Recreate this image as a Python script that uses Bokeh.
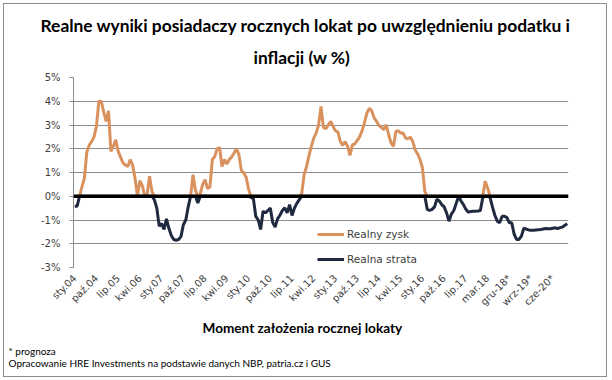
import numpy as np
from bokeh.plotting import figure
from bokeh.models import (Range1d, FixedTicker, Span, Legend, LegendItem, Title,
                          ColumnDataSource)
from bokeh.embed import file_html
from bokeh.resources import INLINE

# ---- data (values in %) ----
tick_labels = ["sty.04", "paź.04", "lip.05", "kwi.06", "sty.07", "paź.07", "lip.08",
               "kwi.09", "sty.10", "paź.10", "lip.11", "kwi.12", "sty.13", "paź.13",
               "lip.14", "kwi.15", "sty.16", "paź.16", "lip.17", "mar.18",
               "gru-18*", "wrz-19*", "cze-20*"]
tick_step = 9

wynik_realny = [
    -0.42, -0.42, 0.0, 0.4, 0.75, 1.85, 2.15, 2.3, 2.5, 2.94,
    4.0, 4.0, 3.55, 3.15, 3.6, 1.89, 2.1, 2.38, 1.89, 1.65,
    1.4, 1.32, 1.25, 1.54, 1.3, 0.75, 0.0, 0.66, 0.45, 0.0,
    0.1, 0.84, 0.2, -0.15, -0.5, -1.26, -1.15, -1.4, -0.95, -1.35,
    -1.65, -1.82, -1.85, -1.82, -1.7, -1.2, -1.0, -0.45, 0.0, 0.91,
    0.25, -0.28, 0.1, 0.5, 0.7, 0.32, 0.4, 1.54, 1.68, 2.0,
    2.05, 1.25, 1.55, 1.36, 1.55, 1.65, 1.82, 2.0, 1.75, 1.1,
    0.98, 0.8, 0.3, -0.05, -0.1, -0.85, -1.0, -1.4, -0.63, -0.7,
    -0.6, -0.5, -1.1, -1.3, -0.95, -0.8, -0.6, -0.49, -0.7, -0.35,
    -0.81, -0.5, -0.3, -0.14, 0.1, 0.9, 1.25, 1.7, 2.1, 2.45,
    2.66, 3.0, 3.78, 2.9, 2.84, 3.0, 3.15, 2.94, 2.76, 2.7,
    2.31, 2.14, 2.3, 2.12, 1.72, 2.17, 2.2, 2.35, 2.5, 2.75,
    3.1, 3.5, 3.7, 3.6, 3.3, 3.15, 2.98, 2.9, 2.8, 3.01,
    2.6, 2.26, 2.1, 2.73, 2.76, 2.66, 2.66, 2.45, 2.42, 2.49,
    2.31, 1.95, 1.78, 1.55, 1.2, 0.2, -0.55, -0.6, -0.55, -0.45,
    -0.12, -0.2, -0.35, -0.45, -0.7, -1.05, -0.75, -0.6, -0.3, 0.0,
    -0.2, -0.35, -0.55, -0.67, -0.64, -0.63, -0.63, -0.62, -0.6, -0.05,
    0.63, 0.35, -0.05, -0.45, -0.8, -1.05, -1.12, -0.84, -0.84, -0.9,
    -1.12, -1.12, -1.6, -1.82, -1.82, -1.68, -1.35, -1.38, -1.42, -1.43,
    -1.43, -1.42, -1.41, -1.4, -1.38, -1.36, -1.37, -1.37, -1.35, -1.33,
    -1.36, -1.32, -1.3, -1.22, -1.16,
]
y_ticks = [-3, -2, -1, 0, 1, 2, 3, 4, 5]

# the two series: gains (>=0) and losses (<=0)
realny_zysk = [max(v, 0.0) for v in wynik_realny]
realna_strata = [min(v, 0.0) for v in wynik_realny]
x_idx = list(range(len(wynik_realny)))

ORANGE = "#D9925E"
NAVY = "#1F2A40"
GRID = "#8C8C8C"
TXT = "#404040"
FONT = "DejaVu Sans"
TFONT = "Lato"

W, H = 604, 374
p = figure(width=W, height=H, output_backend="svg", toolbar_location=None,
           x_range=Range1d(-0.5, len(wynik_realny) - 0.5), y_range=Range1d(-3, 5),
           min_border_left=69, min_border_right=40, min_border_top=73,
           min_border_bottom=111,
           styles={"border": "1px solid #8C8C8C", "margin": "3px 0 0 3px"})
p.outline_line_color = None
p.background_fill_color = "white"
p.border_fill_color = "white"

src = ColumnDataSource(dict(x=x_idx, zysk=realny_zysk, strata=realna_strata))
r1 = p.line("x", "zysk", source=src, line_color=ORANGE, line_width=3)
r2 = p.line("x", "strata", source=src, line_color=NAVY, line_width=3)

p.add_layout(Span(location=0, dimension="width", line_color="black", line_width=3.5))

# grid
p.xgrid.grid_line_color = None
p.ygrid.ticker = FixedTicker(ticks=y_ticks)
p.ygrid.grid_line_color = GRID
p.ygrid.grid_line_width = 1

# y axis
p.yaxis.ticker = FixedTicker(ticks=y_ticks)
p.yaxis.major_label_overrides = {t: f"{t}%" for t in y_ticks}
p.yaxis.axis_line_color = GRID
p.yaxis.major_tick_line_color = GRID
p.yaxis.major_tick_out = 4
p.yaxis.major_tick_in = 0
p.yaxis.minor_tick_line_color = None
p.yaxis.major_label_text_font = FONT
p.yaxis.major_label_text_font_size = "10px"
p.yaxis.major_label_text_color = TXT
p.yaxis.major_label_standoff = 9

# x axis
xt = [i * tick_step for i in range(len(tick_labels))]
p.xaxis.ticker = FixedTicker(ticks=xt)
p.xaxis.major_label_overrides = {t: lab for t, lab in zip(xt, tick_labels)}
p.xaxis.major_label_orientation = np.pi / 4
p.xaxis.axis_line_color = None
p.xaxis.major_tick_line_color = None
p.xaxis.minor_tick_line_color = None
p.xaxis.major_label_text_font = FONT
p.xaxis.major_label_text_font_size = "10px"
p.xaxis.major_label_text_color = TXT
p.xaxis.major_label_standoff = 3

# legend
legend = Legend(items=[LegendItem(label="Realny zysk", renderers=[r1]),
                       LegendItem(label="Realna strata", renderers=[r2])],
                location=(244, -2), orientation="vertical")
legend.background_fill_alpha = 0
legend.border_line_color = None
legend.padding = 0
legend.margin = 0
legend.spacing = 5
legend.glyph_width = 27
legend.glyph_height = 20
legend.label_height = 20
legend.label_standoff = 3
legend.label_text_font = FONT
legend.label_text_font_size = "10.5px"
legend.label_text_color = TXT
p.add_layout(legend)

# titles (later "above" ones go further out); offsets relative to frame left
def title(t, place, size, bold=False, offset=0, standoff=0, lh=1.0):
    p.add_layout(Title(text=t, align="left", offset=offset, standoff=standoff,
                       text_font=TFONT, text_font_size=size, text_line_height=lh,
                       text_font_style="bold" if bold else "normal",
                       text_color="black"), place)

title("inflacji (w %)", "above", "17.4px", True, offset=180, standoff=19, lh=0.75)
title("Realne wyniki posiadaczy rocznych lokat po uwzględnieniu podatku i", "above",
      "17.4px", True, offset=-33, standoff=0, lh=0.75)
title("Moment założenia rocznej lokaty", "below", "13.6px", True, offset=129, standoff=6)
title("* prognoza\nOpracowanie HRE Investments na podstawie danych NBP, patria.cz  i GUS",
      "below", "10px", offset=-65, standoff=8, lh=1.0)

open("out.html", "w").write(file_html(p, INLINE))
